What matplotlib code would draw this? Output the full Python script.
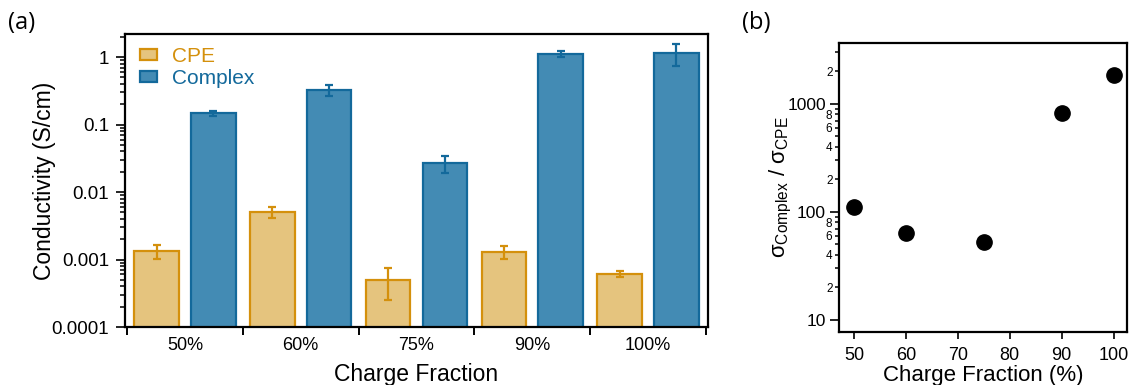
import numpy as np
import matplotlib
matplotlib.use("Agg")
import matplotlib.pyplot as plt
from matplotlib.ticker import FixedLocator, FuncFormatter, LogLocator, NullFormatter

plt.rcParams["font.family"] = ["Liberation Sans", "DejaVu Sans"]
plt.rcParams["mathtext.fontset"] = "custom"
plt.rcParams["mathtext.rm"] = "Liberation Sans"
plt.rcParams["mathtext.it"] = "Liberation Sans:italic"

# ---- data -------------------------------------------------------------
categories = ["50%", "60%", "75%", "90%", "100%"]
cpe = [1.33e-3, 5.1e-3, 5.0e-4, 1.31e-3, 6.1e-4]
cpe_err = [0.3e-3, 1.0e-3, 2.5e-4, 0.3e-3, 0.6e-4]
complex_vals = [0.147, 0.327, 0.0267, 1.11, 1.16]
complex_err = [0.012, 0.06, 0.0073, 0.12, 0.42]

fraction = [50, 60, 75, 90, 100]
ratio = [111, 64, 53, 830, 1850]

# ---- colours ----------------------------------------------------------
cpe_fill, cpe_edge = "#E5C47E", "#D4900C"
cx_fill, cx_edge = "#438BB4", "#13699B"

W, H = 1130, 385
fig = plt.figure(figsize=(W / 100, H / 100), dpi=100)

# ---- (a) conductivity bars --------------------------------------------
ax1 = fig.add_axes([125 / W, 1 - 327 / H, 583 / W, 293 / H])
ax1.set_yscale("log")
x = np.arange(len(categories))
off, bw = 0.245, 0.385
ax1.bar(x - off, cpe, bw, color=cpe_fill, edgecolor=cpe_edge, linewidth=1.6,
        label="CPE", yerr=cpe_err,
        error_kw=dict(ecolor=cpe_edge, elinewidth=1.6, capsize=3.2, capthick=1.6))
ax1.bar(x + off, complex_vals, bw, color=cx_fill, edgecolor=cx_edge, linewidth=1.6,
        label="Complex", yerr=complex_err,
        error_kw=dict(ecolor=cx_edge, elinewidth=1.6, capsize=3.2, capthick=1.6))
ax1.set_ylim(1e-4, 2.2)
ax1.set_xlim(-0.517, len(categories) - 0.483)

ax1.yaxis.set_major_locator(FixedLocator([1e-4, 1e-3, 1e-2, 1e-1, 1]))
ax1.yaxis.set_major_formatter(FuncFormatter(lambda v, p: f"{v:g}" if v >= 1e-3 else "0.0001"))
ax1.yaxis.set_minor_locator(LogLocator(base=10, subs=np.arange(2, 10), numticks=20))
ax1.yaxis.set_minor_formatter(NullFormatter())
ax1.tick_params(axis="y", which="major", direction="out", length=6.5, width=1.2,
                labelsize=13.5, pad=5)
ax1.tick_params(axis="y", which="minor", direction="out", length=3.6, width=1.1)

ax1.set_xticks(np.arange(-0.5, len(categories), 1.0))
ax1.set_xticks(x, minor=True)
ax1.set_xticklabels(categories, minor=True)
ax1.tick_params(axis="x", which="major", direction="out", length=6, width=1.4,
                labelbottom=False)
ax1.tick_params(axis="x", which="minor", length=0, labelsize=13, pad=7)
for s in ax1.spines.values():
    s.set_linewidth(1.6)

ax1.set_xlabel("Charge Fraction", fontsize=16.5, labelpad=6.5)
ax1.set_ylabel("Conductivity (S/cm)", fontsize=16.5, labelpad=-3)

leg = ax1.legend(loc="upper left", bbox_to_anchor=(-0.006, 1.02), frameon=False,
                 fontsize=15, handlelength=0.8, handleheight=0.45,
                 handletextpad=0.7, labelspacing=0.14, borderaxespad=0.5)
for t, c in zip(leg.get_texts(), [cpe_edge, cx_edge]):
    t.set_color(c)

# ---- (b) conductivity ratio -------------------------------------------
ax2 = fig.add_axes([839 / W, 1 - 332 / H, 288 / W, 289 / H])
ax2.plot(fraction, ratio, "o", color="black", markersize=11)
ax2.set_yscale("log")
ax2.set_ylim(7.7, 3660)
ax2.set_xlim(47.1, 102.6)
ax2.set_xticks([50, 60, 70, 80, 90, 100])

ax2.yaxis.set_major_locator(FixedLocator([10, 100, 1000]))
ax2.yaxis.set_major_formatter(FuncFormatter(lambda v, p: f"{v:g}"))
minor_pos = [m * d for d in (10, 100, 1000) for m in range(2, 10) if m * d <= 3000]
ax2.yaxis.set_minor_locator(FixedLocator(minor_pos))


def minor_label(v, p):
    lead = int(round(v / 10 ** np.floor(np.log10(v))))
    return str(lead) if lead in (2, 4, 6, 8) else ""


ax2.yaxis.set_minor_formatter(FuncFormatter(minor_label))
ax2.tick_params(axis="y", which="major", direction="out", length=6.5, width=1.2,
                labelsize=12.5, pad=3)
ax2.tick_params(axis="y", which="minor", direction="out", length=3.2, width=1.1,
                labelsize=8.5, pad=1.5)
ax2.tick_params(axis="x", which="major", direction="out", length=5, width=1.2,
                labelsize=13, pad=5.5)
for s in ax2.spines.values():
    s.set_linewidth(1.6)

ax2.set_xlabel("Charge Fraction (%)", fontsize=16, labelpad=1)
ax2.set_ylabel(r"$\mathregular{σ_{Complex}}$ / $\mathregular{σ_{CPE}}$",
               fontsize=16, labelpad=-5)

# ---- panel letters ----------------------------------------------------
fig.text(8 / W, 1 - 23 / H, "(a)", fontsize=17, va="center", ha="left",
         family=["Open Sans", "DejaVu Sans"])
fig.text(742 / W, 1 - 23 / H, "(b)", fontsize=17, va="center", ha="left",
         family=["Open Sans", "DejaVu Sans"])

fig.savefig("out.png", dpi=100)
